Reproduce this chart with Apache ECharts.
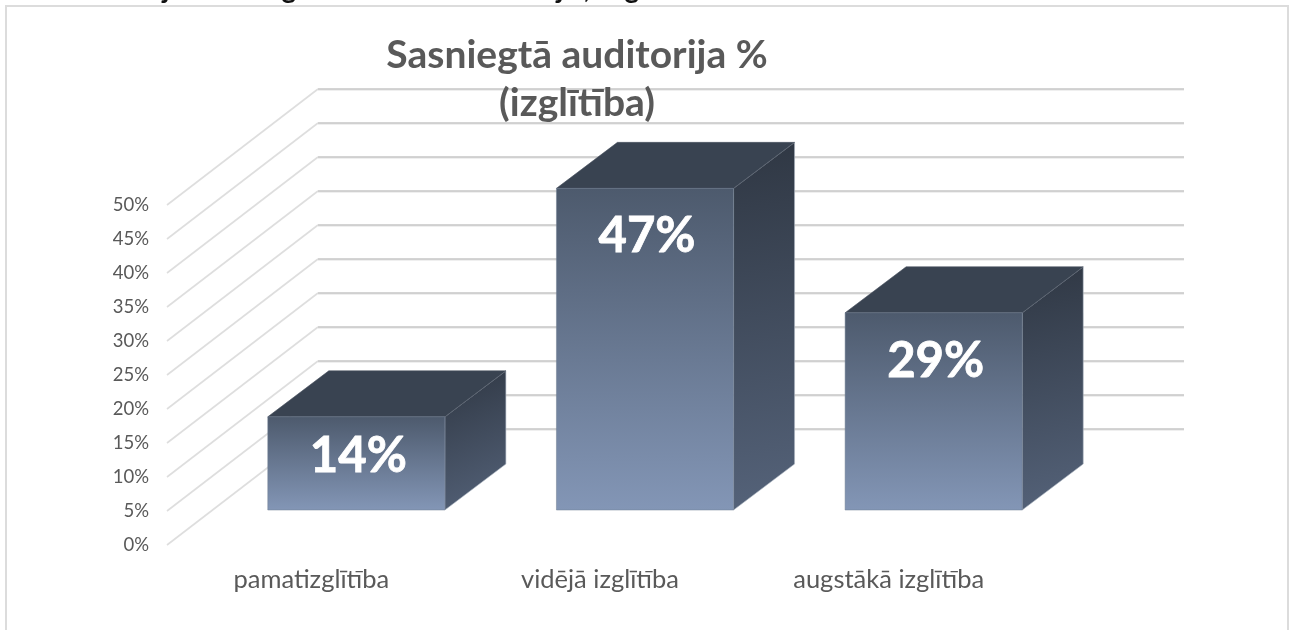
<!DOCTYPE html>
<html><head><meta charset="utf-8">
<style>html,body{margin:0;padding:0;background:#fff}#c{width:1289px;height:630px}</style>
<script src="https://cdn.jsdelivr.net/npm/echarts@6/dist/echarts.min.js"></script>
</head><body><div id="c"></div>
<script>
const titleText = 'Sasniegtā auditorija %\n(izglītība)';
const categories = ['pamatizglītība', 'vidējā izglītība', 'augstākā izglītība'];
const values = [13.7, 47.3, 29];
const ticks = [0, 5, 10, 15, 20, 25, 30, 35, 40, 45, 50];
const font = 'Lato, "Open Sans", sans-serif';

// oblique projection of the 3D chart
const wallDx = 151, wallDy = -116;
const barInsetDx = 45, barInsetDy = -35;
const barDepthDx = 61, barDepthDy = -46;
const barWidthRatio = 0.6135;

const chart = echarts.init(document.getElementById('c'), null, {renderer: 'canvas'});

function wall(params, api) {
  const cs = params.coordSys;
  const y = api.coord([0, api.value(0)])[1];
  const x0 = cs.x;
  const bx = x0 + wallDx, by = y + wallDy;
  return {type: 'group', children: [
    {type: 'polyline', shape: {points: [[x0, y], [bx, by]]},
     style: {fill: null, stroke: '#dedede', lineWidth: 1.6}},
    {type: 'polyline', shape: {points: [[bx, by + 1], [bx + cs.width, by + 1]]},
     style: {fill: null, stroke: '#efefef', lineWidth: 2}},
    {type: 'polyline', shape: {points: [[bx, by], [bx + cs.width, by]]},
     style: {fill: null, stroke: '#c6c6c6', lineWidth: 1.3}}
  ]};
}

function bar(params, api) {
  const idx = api.value(0), val = api.value(1);
  const band = api.size([1, 0])[0];
  const w = band * barWidthRatio;
  const cx = api.coord([idx, 0])[0] + barInsetDx;
  const yb = api.coord([idx, 0])[1] + barInsetDy;
  const yt = api.coord([idx, val])[1] + barInsetDy;
  const xl = cx - w / 2, xr = cx + w / 2;
  const d = [barDepthDx, barDepthDy];
  const edge = '#aab3c0';
  const h = yb - yt;
  return {type: 'group', children: [
    {type: 'polygon', shape: {points: [[xr, yt], [xr + d[0], yt + d[1]], [xr + d[0], yb + d[1]], [xr, yb]]},
     style: {fill: new echarts.graphic.LinearGradient(0, 0, 1, 1, [
        {offset: 0, color: '#2f3743'}, {offset: 1, color: '#55637a'}]), stroke: edge, lineWidth: 0.6}},
    {type: 'polygon', shape: {points: [[xl, yt], [xr, yt], [xr + d[0], yt + d[1]], [xl + d[0], yt + d[1]]]},
     style: {fill: '#394351', stroke: '#4a5360', lineWidth: 0.6}},
    {type: 'rect', shape: {x: xl, y: yt, width: w, height: h},
     style: {fill: new echarts.graphic.LinearGradient(0, 0, 0, 1, [
        {offset: 0, color: '#4d5a6d'}, {offset: 1, color: '#8396b6'}]), stroke: '#6f7c90', lineWidth: 0.5}},
    {type: 'text', x: cx + 2, y: yt + Math.min(47, h * 0.41) + 1,
     style: {text: Math.round(val) + '%', fill: '#fff', stroke: '#fff', lineWidth: 0.8, font: 'bold 49px ' + font, textAlign: 'center', textVerticalAlign: 'middle'}}
  ]};
}

const clipped = [['j', 166], ['g', 289], ['j', 560], [',', 587], ['g', 632]];

chart.setOption({
  animation: false,
  backgroundColor: '#fff',
  title: {text: titleText, left: 572, top: 26, textAlign: 'center',
    textStyle: {fontFamily: font, fontWeight: 'bold', fontSize: 39, lineHeight: 48, color: '#595959'}},
  grid: {left: 167, top: 205, width: 866, height: 340, containLabel: false},
  xAxis: {type: 'category', data: categories,
    axisLine: {show: false}, axisTick: {show: false}, splitLine: {show: false},
    axisLabel: {margin: 22, fontFamily: font, fontSize: 25.5, color: '#595959'}},
  yAxis: {type: 'value', min: 0, max: 50, interval: 5,
    axisLine: {show: false}, axisTick: {show: false}, splitLine: {show: false},
    axisLabel: {margin: 18, padding: [3, 0, 0, 0], fontFamily: font, fontSize: 18.5, color: '#595959', formatter: '{value}%'}},
  series: [
    {type: 'custom', name: 'sienas', renderItem: wall, data: ticks.map(t => [t]), encode: {y: 0}, silent: true, z: 1, clip: false},
    {type: 'custom', name: 'auditorija', renderItem: bar, data: values.map((v, i) => [i, v]), encode: {x: 0, y: 1}, z: 3, clip: false}
  ],
  graphic: [
    {type: 'rect', z: 0, shape: {x: 6, y: 6, width: 1282, height: 640},
     style: {fill: 'none', stroke: '#dcdcdc', lineWidth: 2}}
  ].concat(clipped.map(c => ({type: 'text', z: 0, x: c[1], y: 3,
     style: {text: c[0], fill: '#111', font: 'bold 28px ' + font, textAlign: 'center', textVerticalAlign: 'bottom'}})))
});
</script></body></html>
